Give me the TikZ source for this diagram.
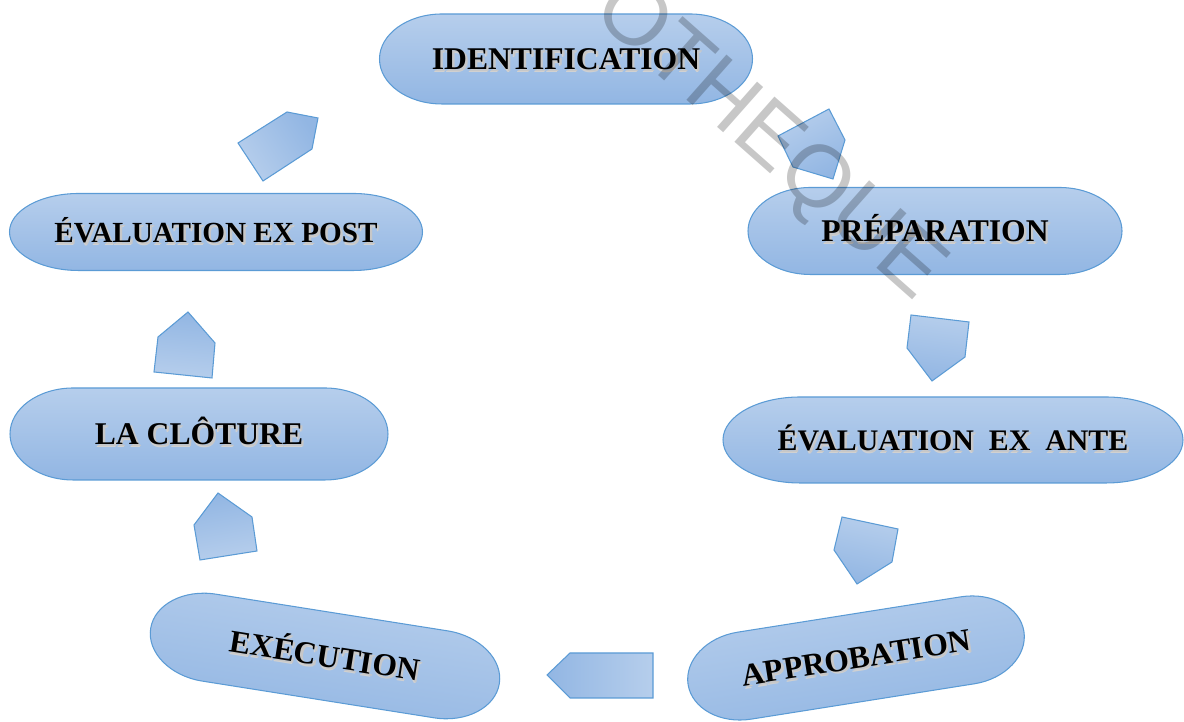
\documentclass[tikz,border=0pt]{standalone}
\usepackage{fontspec}
\setmainfont{Liberation Serif}
\newfontfamily\wmfont{Liberation Sans}
\usepackage{tikz}

\definecolor{phasetop}{RGB}{182,206,236}
\definecolor{phasebot}{RGB}{146,182,227}
\definecolor{phaseline}{RGB}{91,155,213}

% bold caps with a soft grey shadow
\newcommand{\shtext}[1]{\leavevmode
  \rlap{\kern0.8pt\raisebox{-1.6pt}{\color{black!18}#1}}%
  \rlap{\kern1.4pt\raisebox{-1.0pt}{\color{black!22}#1}}#1}

% one phase of the cycle: name, x, y, width, height, angle, text
\newcommand{\phase}[7]{%
  \begin{scope}[shift={(#2,#3)},rotate=#6]
    \path[phasebox,shading angle=#6]
      ({-0.3323*#4},{#5/2}) -- ({0.3323*#4},{#5/2})
      arc[start angle=90,end angle=-90,x radius={0.1677*#4},y radius={#5/2}]
      -- ({-0.3323*#4},{-#5/2})
      arc[start angle=270,end angle=90,x radius={0.1677*#4},y radius={#5/2}]
      -- cycle;
    \node[phasetext,rotate=#6] (#1) at (0,0) {\shtext{#7}};
  \end{scope}}

\begin{document}
\begin{tikzpicture}[x=0.02cm,y=0.02cm,
    phasebox/.style={draw=phaseline,line width=0.6pt,top color=phasetop,bottom color=phasebot},
    phasetext/.style={font=\bfseries\fontsize{18}{21}\selectfont,inner sep=0pt,text height=12pt,text depth=0pt},
    arrowbox/.style={draw=phaseline,line width=0.6pt,top color=phasetop,bottom color=phasebot},
    watermark/.style={font=\wmfont\fontsize{50}{50}\selectfont,text=black,text opacity=0.22,rotate=-41.5}]

  \useasboundingbox (0,0) rectangle (1184,722);

  \phase{ident}{566}{663}{373}{90}{0}{IDENTIFICATION}
  \phase{prep}{935}{491}{374}{87}{0}{PRÉPARATION}
  \phase{ante}{953}{282}{460}{86}{0}{\fontsize{17}{20}\selectfont ÉVALUATION\ \ EX\ \ ANTE}
  \phase{appro}{856}{64}{340}{88}{9}{APPROBATION}
  \phase{exec}{325}{66}{353}{88}{-9}{EXÉCUTION}
  \phase{clot}{199}{288}{378}{92}{0}{LA CLÔTURE}
  \phase{post}{216}{490}{413}{77}{0}{\fontsize{16.6}{20}\selectfont ÉVALUATION EX POST}

  % block arrows between the phases
  \path[arrowbox,shading angle=28] (778,586) -- (829,613) -- (845,582) -- (833,543) -- (793,555) -- cycle;
  \path[arrowbox,shading angle=-7] (911,407) -- (969,400) -- (965,365) -- (932,341) -- (907,374) -- cycle;
  \path[arrowbox,shading angle=-12] (842,205) -- (898,193) -- (892,160) -- (857,138) -- (834,172) -- cycle;
  \path[arrowbox,shading angle=-90] (653,69) -- (653,24) -- (570,24) -- (547,47) -- (570,69) -- cycle;
  \path[arrowbox,shading angle=-170] (257,171) -- (200,162) -- (194,197) -- (218,229) -- (252,205) -- cycle;
  \path[arrowbox,shading angle=175] (154,350) -- (212,344) -- (215,379) -- (188,410) -- (158,385) -- cycle;
  \path[arrowbox,shading angle=123] (238,579) -- (263,541) -- (312,573) -- (318,604) -- (287,610) -- cycle;

  \node[watermark] (wm) at (768,580) {OTHEQUE};

\end{tikzpicture}
\end{document}
